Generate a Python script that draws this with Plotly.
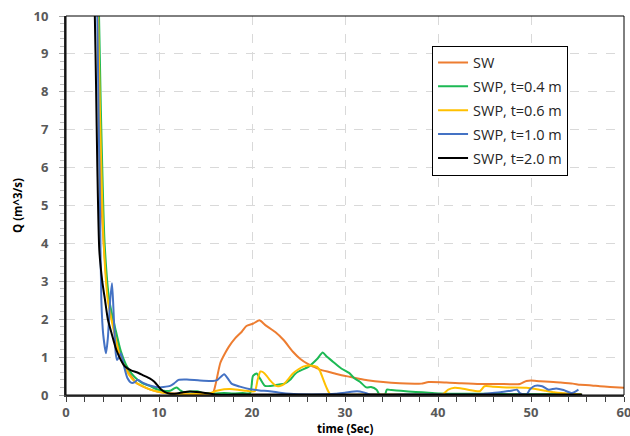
import plotly.graph_objects as go

# Discharge hydrographs: time (s) and Q (m^3/s) for each case
sw_t = [3.35, 3.45, 3.55, 3.66, 3.85, 4.1, 4.55, 5.27, 5.8, 6.35, 7.0, 7.6, 8.3, 9.0, 10.0, 11.0,
        12.0, 13.0, 14.0, 15.2, 15.8, 16.1, 16.6, 17.1, 17.5, 18.2, 18.9, 19.4, 20.1, 20.8, 21.4,
        22.5, 23.4, 24.4, 25.2, 26.0, 26.6, 27.3, 28.4, 29.3, 30.5, 31.5, 32.4, 34.1, 35.9, 37.5,
        38.2, 39.0, 40.9, 42.5, 44.5, 46.5, 48.8, 49.5, 50.0, 51.0, 52.0, 53.1, 54.5, 55.3, 56.3,
        57.4, 58.5, 60.0]
sw_q = [10.8, 10.0, 8.2, 6.0, 4.8, 3.83, 2.5, 1.63, 1.1, 0.75, 0.5, 0.31, 0.22, 0.15, 0.08, 0.05,
        0.03, 0.02, 0.02, 0.02, 0.05, 0.3, 0.85, 1.1, 1.27, 1.5, 1.67, 1.82, 1.88, 1.97, 1.85,
        1.66, 1.45, 1.14, 0.95, 0.82, 0.75, 0.67, 0.6, 0.54, 0.48, 0.43, 0.39, 0.34, 0.31, 0.3,
        0.3, 0.34, 0.33, 0.31, 0.29, 0.29, 0.29, 0.37, 0.38, 0.36, 0.35, 0.33, 0.3, 0.27, 0.26,
        0.23, 0.21, 0.19]

swp04_t = [3.45, 3.55, 3.75, 3.95, 4.15, 4.65, 5.35, 5.9, 6.45, 7.1, 7.7, 8.3, 9.0, 9.7, 10.5,
           11.2, 11.6, 11.9, 12.3, 12.6, 13.4, 14.1, 14.8, 16.0, 17.0, 18.0, 19.0, 19.8, 20.1,
           20.5, 20.9, 21.4, 22.0, 22.7, 23.5, 24.1, 24.6, 25.0, 26.1, 27.0, 27.6, 28.0, 28.7,
           29.6, 30.5, 31.0, 31.6, 32.3, 32.8, 33.4, 33.7, 34.3, 34.5, 35.0, 36.0, 37.6, 39.0,
           40.2, 42.0, 45.0, 48.0, 50.0, 53.0, 55.4]
swp04_q = [10.8, 10.0, 7.5, 5.5, 4.0, 2.5, 1.7, 1.15, 0.8, 0.55, 0.4, 0.3, 0.24, 0.16, 0.11,
           0.11, 0.17, 0.2, 0.12, 0.08, 0.09, 0.1, 0.05, 0.04, 0.05, 0.04, 0.05, 0.05, 0.5,
           0.57, 0.42, 0.24, 0.24, 0.27, 0.3, 0.4, 0.55, 0.62, 0.75, 0.95, 1.12, 1.02, 0.88,
           0.7, 0.57, 0.44, 0.35, 0.2, 0.21, 0.14, 0.01, 0.01, 0.14, 0.13, 0.11, 0.08, 0.06,
           0.04, 0.03, 0.03, 0.02, 0.02, 0.02, 0.02]

swp06_t = [3.35, 3.45, 3.65, 3.85, 4.05, 4.5, 5.2, 5.8, 6.3, 6.8, 7.5, 8.2, 9.0, 9.8, 10.5, 11.5,
           12.6, 14.0, 15.4, 16.2, 17.0, 17.6, 18.5, 19.4, 20.3, 20.6, 20.9, 21.2, 21.6, 21.9,
           22.6, 23.0, 23.4, 23.9, 24.4, 25.0, 25.5, 26.2, 27.0, 27.3, 27.6, 28.0, 28.4, 29.0,
           32.0, 36.0, 38.0, 40.5, 41.1, 41.8, 43.0, 44.5, 45.0, 46.0, 47.5, 49.5, 50.5, 51.6,
           52.5, 53.8, 55.4]
swp06_q = [10.8, 10.0, 7.5, 5.5, 4.0, 2.5, 1.63, 1.0, 0.75, 0.52, 0.33, 0.24, 0.15, 0.09, 0.06, 0.03,
           0.02, 0.03, 0.04, 0.11, 0.15, 0.16, 0.14, 0.11, 0.1, 0.4, 0.62, 0.6, 0.5, 0.4,
           0.24, 0.24, 0.28, 0.42, 0.57, 0.68, 0.75, 0.78, 0.74, 0.64, 0.45, 0.2, 0.02, 0.01,
           0.01, 0.01, 0.01, 0.02, 0.14, 0.19, 0.15, 0.1, 0.23, 0.22, 0.2, 0.19, 0.16, 0.11,
           0.07, 0.04, 0.01]

swp10_t = [3.25, 3.37, 3.5, 3.65, 3.8, 4.0, 4.3, 4.5, 4.75, 4.95, 5.15, 5.35, 5.5, 5.7, 5.9, 6.2,
           6.6, 7.05, 7.4, 7.7, 8.3, 9.0, 10.0, 10.5, 11.2, 11.6, 12.1, 13.0, 14.4, 15.8, 16.3,
           17.0, 17.5, 17.8, 18.7, 19.8, 20.8, 21.9, 23.0, 24.1, 25.0, 28.0, 29.0, 30.0, 31.3,
           32.0, 32.6, 33.0, 36.0, 40.0, 44.0, 45.0, 46.7, 48.0, 48.5, 48.8, 49.5, 49.9, 50.4,
           51.2, 51.9, 52.7, 53.5, 54.4, 55.1]
swp10_q = [11.0, 10.0, 7.5, 5.0, 2.5, 1.6, 1.1, 1.5, 2.5, 2.95, 2.0, 1.1, 0.92, 1.0, 1.1, 0.8,
           0.45, 0.32, 0.34, 0.4, 0.32, 0.25, 0.2, 0.21, 0.24, 0.3, 0.4, 0.41, 0.38, 0.37, 0.4,
           0.55, 0.4, 0.3, 0.22, 0.15, 0.12, 0.1, 0.06, 0.03, 0.02, 0.02, 0.03, 0.06, 0.1,
           0.07, 0.02, 0.01, 0.01, 0.01, 0.01, 0.03, 0.07, 0.12, 0.14, 0.05, 0.01, 0.15, 0.24,
           0.23, 0.14, 0.17, 0.13, 0.05, 0.14]

swp20_t = [3.0, 3.1, 3.23, 3.37, 3.58, 3.9, 4.2, 4.5, 4.9, 5.4, 5.9, 6.35, 7.0, 7.6, 8.3, 9.0,
           9.5, 9.75, 10.2, 10.6, 11.1, 11.9, 12.6, 13.3, 14.0, 14.8, 16.2, 18.0, 25.0, 40.0, 55.5]
swp20_q = [10.8, 10.0, 8.2, 6.0, 3.83, 3.0, 2.5, 2.0, 1.63, 1.2, 0.92, 0.75, 0.65, 0.6, 0.52, 0.44,
           0.35, 0.28, 0.15, 0.08, 0.04, 0.04, 0.07, 0.09, 0.08, 0.06, 0.01, 0.01, 0.01, 0.01, 0.01]

series_names = ["SW", "SWP, t=0.4 m", "SWP, t=0.6 m", "SWP, t=1.0 m", "SWP, t=2.0 m"]
series_t = [sw_t, swp04_t, swp06_t, swp10_t, swp20_t]
series_q = [sw_q, swp04_q, swp06_q, swp10_q, swp20_q]
series_colors = ["#ED7D31", "#1DB954", "#FFC000", "#4472C4", "#000000"]

x_title = "time (Sec)"
y_title = "Q (m^3/s)"

fig = go.Figure()
for name, t, q, c in zip(series_names, series_t, series_q, series_colors):
    fig.add_trace(go.Scatter(
        x=t, y=q, name=name, mode="lines", legendgroup=name,
        line=dict(color=c, width=2, shape="spline", smoothing=0.6),
    ))

tick_font = dict(family="Open Sans", size=13, color="#595959", weight="bold")
title_font = dict(family="Open Sans", size=11.5, color="#000000", weight="bold")

fig.update_layout(
    width=630, height=436,
    margin=dict(l=66, r=6, t=16, b=41, autoexpand=False),
    paper_bgcolor="white", plot_bgcolor="white",
    showlegend=True,
    legend=dict(
        x=0.656, y=0.922, xanchor="left", yanchor="top",
        bgcolor="white", bordercolor="#000000", borderwidth=1,
        font=dict(family="Open Sans", size=14.5, color="#262626"),
        itemwidth=30, tracegroupgap=2,
    ),
    xaxis=dict(
        range=[0, 60], dtick=10, tick0=0, automargin=False,
        showgrid=True, gridcolor="#D9D9D9", griddash="dash", gridwidth=1,
        showline=True, linecolor="#404040", linewidth=1.5,
        ticks="outside", ticklen=5, tickcolor="#404040",
        minor=dict(dtick=2, ticks="outside", ticklen=5, tickcolor="#404040", showgrid=False),
        tickfont=tick_font, zeroline=False, ticklabeloverflow="allow",
    ),
    yaxis=dict(
        range=[0, 10], dtick=1, tick0=0, automargin=False,
        showgrid=True, gridcolor="#D9D9D9", griddash="dash", gridwidth=1,
        showline=True, linecolor="#262626", linewidth=2,
        ticks="outside", ticklen=5, tickcolor="#A6A6A6",
        minor=dict(dtick=0.2, ticks="outside", ticklen=4, tickcolor="#BFBFBF", showgrid=False),
        tickfont=tick_font, zeroline=False, ticklabelstandoff=8,
    ),
    annotations=[
        dict(text=x_title, xref="paper", yref="paper", x=0.5, y=-0.088,
             xanchor="center", yanchor="middle", showarrow=False, font=title_font),
        dict(text=y_title, xref="paper", yref="paper", x=-0.087, y=0.5, textangle=-90,
             xanchor="center", yanchor="middle", showarrow=False, font=title_font),
    ],
    shapes=[dict(type="rect", xref="paper", yref="paper", x0=0, y0=0, x1=1, y1=1,
                 line=dict(color="#000000", width=1), fillcolor="rgba(0,0,0,0)")],
)

fig.write_html("out.html")
